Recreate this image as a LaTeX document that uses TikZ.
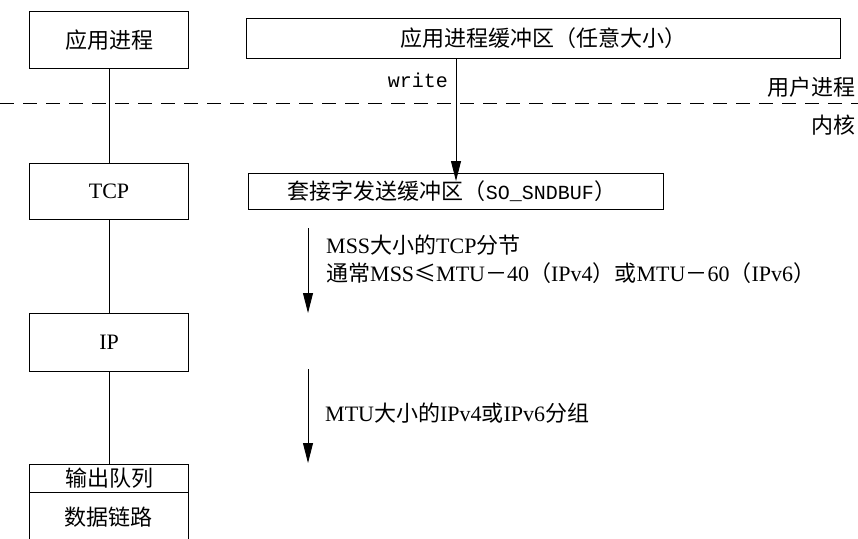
\documentclass[tikz,border=0pt]{standalone}
\usepackage{fontspec}
\setmainfont{Liberation Serif}
\setmonofont{Liberation Mono}
\newfontfamily\cjk{Noto Sans CJK SC}
\newcommand\zh[1]{{\cjk #1}}
\usetikzlibrary{arrows.meta}
\begin{document}
\begin{tikzpicture}[x=1pt,y=-1pt,
  every node/.style={font=\fontsize{22}{26}\selectfont, inner sep=0pt},
  layerbox/.style={draw, line width=1.1pt, minimum width=159pt, anchor=north west},
  bufbox/.style={draw, line width=1.1pt, anchor=north west},
  conn/.style={line width=0.9pt},
  flow/.style={line width=0.9pt, -{Triangle[length=20pt,width=10pt]}},
  sep/.style={line width=0.9pt, dash pattern=on 14pt off 9pt},
  mono/.style={font=\fontsize{20}{24}\selectfont\ttfamily}]
\useasboundingbox (0,0) rectangle (858,538);
\fill[white] (0,0) rectangle (858,538);

% left column
\node[layerbox, minimum height=57pt] (app) at (29,11) {\zh{应用进程}};
\node[layerbox, minimum height=56pt] (tcp) at (29,163) {TCP};
\node[layerbox, minimum height=58pt] (ip) at (29,313) {IP};
\node[layerbox, minimum height=28pt] (oq) at (29,464) {\zh{输出队列}};
\node[layerbox, minimum height=56pt] (dl) at (29,492) {};
\node (dltext) at (108.5,517) {\zh{数据链路}};

\draw[conn] (app.south) -- (tcp.north);
\draw[conn] (tcp.south) -- (ip.north);
\draw[conn] (ip.south) -- (oq.north);

% separator
\coordinate (sepL) at (0,103);
\coordinate (sepR) at (858,103);
\draw[sep] (sepL) -- (sepR);
\node[anchor=east] (user) at (856,87) {\zh{用户进程}};
\node[anchor=east] (kern) at (856,125) {\zh{内核}};

% buffers
\node[bufbox, minimum width=594pt, minimum height=40pt] (abuf) at (246,18) {};
\node (abuftext) at (abuf.center) {\zh{应用进程缓冲区（任意大小）}};
\node[bufbox, minimum width=415pt, minimum height=36pt] (sbuf) at (248,173) {};
\node (sbuftext) at (452,191) {\zh{套接字发送缓冲区（}{\fontsize{20}{24}\selectfont\ttfamily SO\_SNDBUF}\zh{）}};

% write arrow
\coordinate (wx) at (456,0);
\draw[flow] (abuf.south -| wx) -- ([yshift=-8pt]sbuf.north -| wx);
\node[mono, anchor=east] (write) at (448,80) {write};

% TCP segments arrow
\coordinate (s1) at (308,228);
\coordinate (e1) at (308,313);
\draw[flow] (s1) -- (e1);
\node[anchor=west] (mss1) at (326,245) {MSS\zh{大小的}TCP\zh{分节}};
\node[anchor=west] (mss2) at (326,273) {\zh{通常}MSS\zh{≤}MTU\zh{－}40\zh{（}IPv4\zh{）或}MTU\zh{－}60\zh{（}IPv6\zh{）}};

% IP packets arrow
\coordinate (s2) at (308,369);
\coordinate (e2) at (308,463);
\draw[flow] (s2) -- (e2);
\node[anchor=west] (mtu) at (325,413) {MTU\zh{大小的}IPv4\zh{或}IPv6\zh{分组}};
\end{tikzpicture}
\end{document}
